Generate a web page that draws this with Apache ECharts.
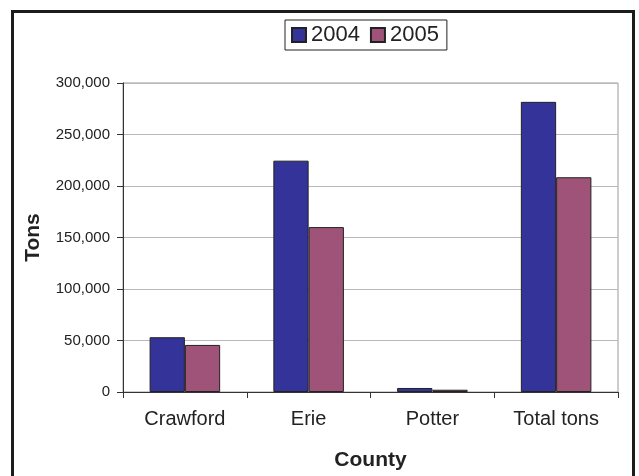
<!DOCTYPE html>
<html>
<head>
<meta charset="utf-8">
<script src="https://cdn.jsdelivr.net/npm/echarts@6/dist/echarts.min.js"></script>
<style>
  html, body { margin: 0; padding: 0; background: #fff; }
  #chart { width: 639px; height: 476px; }
</style>
</head>
<body>
<div id="chart"></div>
<script>
// Counties and tonnage per year
const categories = ['Crawford', 'Erie', 'Potter', 'Total tons'];
const years = ['2004', '2005'];
const tons2004 = [53200, 224600, 3900, 281700];
const tons2005 = [45700, 160100, 2200, 208500];
const yMin = 0;
const yMax = 300000;
const yStep = 50000;

const FONT = '"Liberation Sans", Arial, sans-serif';
const TEXT = '#222';

const chart = echarts.init(document.getElementById('chart'), null, { renderer: 'canvas' });

chart.setOption({
  animation: false,
  backgroundColor: '#fff',
  textStyle: { fontFamily: FONT, color: TEXT },
  grid: {
    left: 123, right: 21, top: 83, bottom: 83,
    show: true, borderColor: '#9a9a9a', borderWidth: 1, backgroundColor: 'transparent'
  },
  legend: {
    data: years,
    left: 285, top: 20,
    orient: 'horizontal',
    itemWidth: 14, itemHeight: 14, itemGap: 10,
    icon: 'rect',
    padding: [4, 8, 4, 6],
    borderColor: '#222', borderWidth: 1,
    textStyle: { fontSize: 22, color: TEXT, fontFamily: FONT }
  },
  xAxis: {
    type: 'category',
    data: categories,
    name: 'County',
    nameLocation: 'middle',
    nameGap: 58,
    nameTextStyle: { fontSize: 21, fontWeight: 'bold', color: TEXT, fontFamily: FONT },
    axisLine: { lineStyle: { color: '#333', width: 1 } },
    axisTick: { show: true, length: 6, lineStyle: { color: '#333' } },
    axisLabel: { fontSize: 20, color: TEXT, margin: 17, fontFamily: FONT },
    splitLine: { show: false }
  },
  yAxis: {
    type: 'value',
    min: yMin, max: yMax, interval: yStep,
    name: 'Tons',
    nameLocation: 'middle',
    nameRotate: 90,
    nameGap: 79,
    nameTextStyle: { fontSize: 21, fontWeight: 'bold', color: TEXT, fontFamily: FONT },
    axisLine: { show: true, lineStyle: { color: '#333', width: 1 } },
    axisTick: { show: true, length: 6, lineStyle: { color: '#333' } },
    axisLabel: {
      fontSize: 15, color: TEXT, margin: 13, fontFamily: FONT,
      formatter: v => v.toLocaleString('en-US')
    },
    splitLine: { show: true, lineStyle: { color: '#b8b8be', width: 1 } }
  },
  series: [
    {
      name: years[0], type: 'bar', data: tons2004,
      barGap: '0%', barCategoryGap: '43%',
      itemStyle: { color: '#333399', borderColor: '#222', borderWidth: 1 }
    },
    {
      name: years[1], type: 'bar', data: tons2005,
      barGap: '0%', barCategoryGap: '43%',
      itemStyle: { color: '#a05378', borderColor: '#222', borderWidth: 1 }
    }
  ],
  graphic: [
    {
      type: 'rect', silent: true, z: 100,
      shape: { x: 12.5, y: 11.5, width: 621, height: 500 },
      style: { fill: 'none', stroke: '#1c1c1c', lineWidth: 3 }
    }
  ]
});
</script>
</body>
</html>
